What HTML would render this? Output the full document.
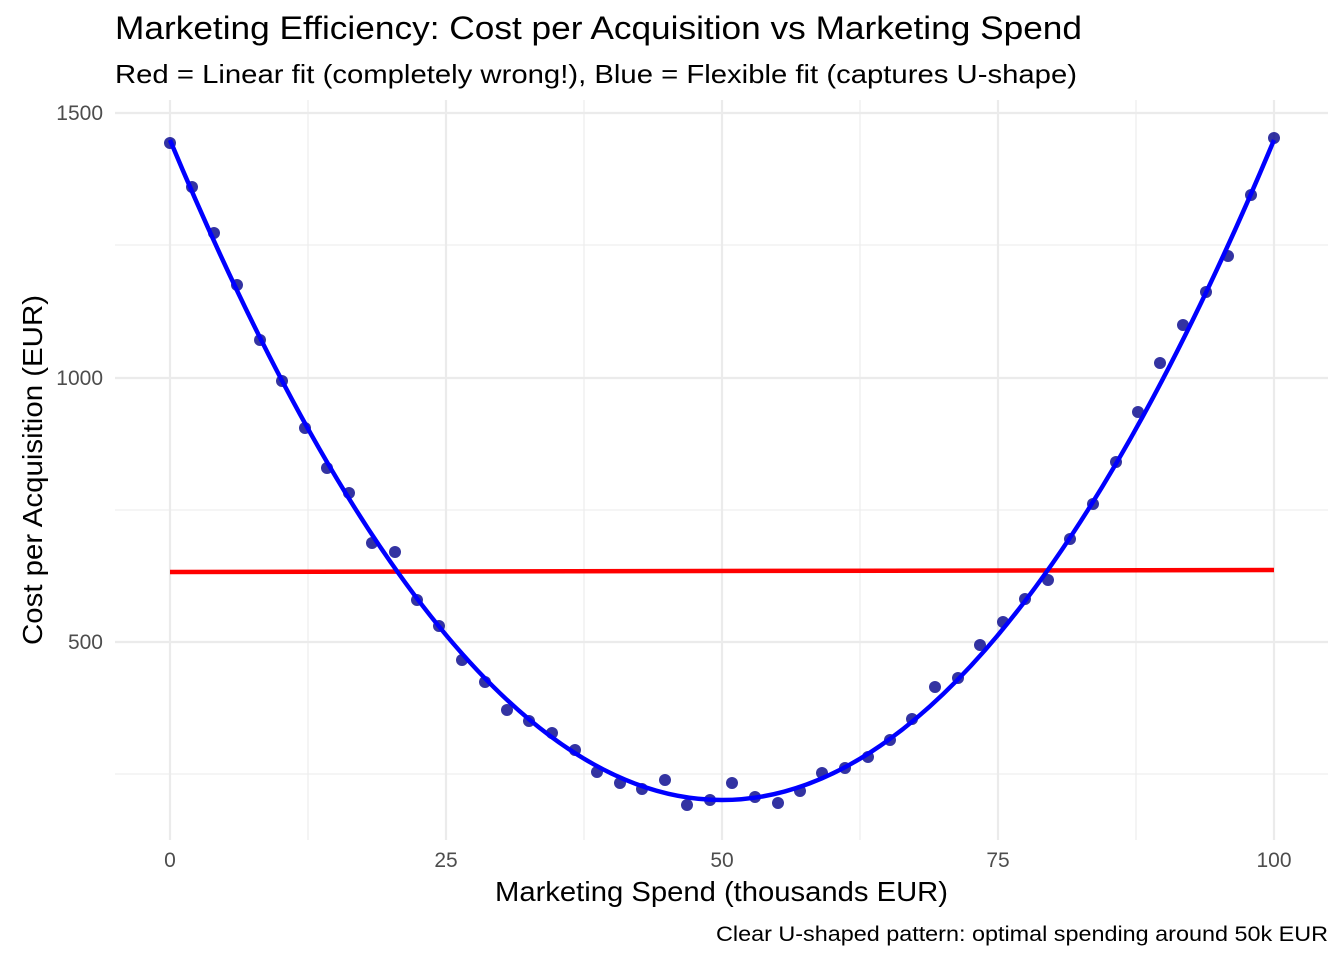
<!DOCTYPE html>
<html><head><meta charset="utf-8"><style>
html,body{margin:0;padding:0;background:#fff;}
svg{display:block;font-family:"Liberation Sans",Arial,sans-serif;}
</style></head><body>
<svg width="1344" height="960" viewBox="0 0 1344 960" xmlns="http://www.w3.org/2000/svg">
<rect width="1344" height="960" fill="#fff"/>
<g stroke="#ebebeb" stroke-width="1.1">
<line x1="115" x2="1328" y1="245" y2="245"/><line x1="115" x2="1328" y1="510" y2="510"/><line x1="115" x2="1328" y1="774" y2="774"/>
<line x1="308" x2="308" y1="100" y2="840"/><line x1="584" x2="584" y1="100" y2="840"/><line x1="860" x2="860" y1="100" y2="840"/><line x1="1136" x2="1136" y1="100" y2="840"/>
</g>
<g stroke="#ebebeb" stroke-width="2.2">
<line x1="115" x2="1328" y1="113" y2="113"/><line x1="115" x2="1328" y1="378" y2="378"/><line x1="115" x2="1328" y1="642" y2="642"/>
<line x1="170" x2="170" y1="100" y2="840"/><line x1="446" x2="446" y1="100" y2="840"/><line x1="722" x2="722" y1="100" y2="840"/><line x1="998" x2="998" y1="100" y2="840"/><line x1="1274" x2="1274" y1="100" y2="840"/>
</g>
<g fill="#00008b" fill-opacity="0.8">
<circle cx="170" cy="143" r="6"/><circle cx="192" cy="187" r="6"/><circle cx="214" cy="233" r="6"/><circle cx="237" cy="285" r="6"/><circle cx="260" cy="340" r="6"/><circle cx="282" cy="381" r="6"/><circle cx="305" cy="428" r="6"/><circle cx="327" cy="468" r="6"/><circle cx="349" cy="493" r="6"/><circle cx="372" cy="543" r="6"/><circle cx="395" cy="552" r="6"/><circle cx="417" cy="600" r="6"/><circle cx="439" cy="626" r="6"/><circle cx="462" cy="660" r="6"/><circle cx="485" cy="682" r="6"/><circle cx="507" cy="710" r="6"/><circle cx="529" cy="721" r="6"/><circle cx="552" cy="733" r="6"/><circle cx="575" cy="750" r="6"/><circle cx="597" cy="772" r="6"/><circle cx="620" cy="783" r="6"/><circle cx="642" cy="789" r="6"/><circle cx="665" cy="780" r="6"/><circle cx="687" cy="805" r="6"/><circle cx="710" cy="800" r="6"/><circle cx="732" cy="783" r="6"/><circle cx="755" cy="797" r="6"/><circle cx="778" cy="803" r="6"/><circle cx="800" cy="791" r="6"/><circle cx="822" cy="773" r="6"/><circle cx="845" cy="768" r="6"/><circle cx="868" cy="757" r="6"/><circle cx="890" cy="740" r="6"/><circle cx="912" cy="719" r="6"/><circle cx="935" cy="687" r="6"/><circle cx="958" cy="678" r="6"/><circle cx="980" cy="645" r="6"/><circle cx="1003" cy="622" r="6"/><circle cx="1025" cy="599" r="6"/><circle cx="1048" cy="580" r="6"/><circle cx="1070" cy="539" r="6"/><circle cx="1093" cy="504" r="6"/><circle cx="1116" cy="462" r="6"/><circle cx="1138" cy="412" r="6"/><circle cx="1160" cy="363" r="6"/><circle cx="1183" cy="325" r="6"/><circle cx="1206" cy="292" r="6"/><circle cx="1228" cy="256" r="6"/><circle cx="1251" cy="195" r="6"/><circle cx="1274" cy="138" r="6"/>
</g>
<line x1="170" y1="572" x2="1274" y2="570" stroke="#ff0000" stroke-width="4.5"/>
<path d="M170,140 Q722,1460 1274,140" fill="none" stroke="#0000ff" stroke-width="4.5"/>
<g font-size="21" fill="#4d4d4d" text-anchor="end">
<text x="103" y="120">1500</text><text x="103" y="385">1000</text><text x="103" y="649">500</text>
</g>
<g font-size="21" fill="#4d4d4d" text-anchor="middle">
<text x="170" y="867">0</text><text x="446" y="867">25</text><text x="722" y="867">50</text><text x="998" y="867">75</text><text x="1274" y="867">100</text>
</g>
<text x="495" y="901" font-size="28" textLength="453" lengthAdjust="spacingAndGlyphs" fill="#000">Marketing Spend (thousands EUR)</text>
<text transform="translate(42,645) rotate(-90)" font-size="28" textLength="350" lengthAdjust="spacingAndGlyphs" fill="#000">Cost per Acquisition (EUR)</text>
<text x="115" y="39" font-size="32" textLength="967" lengthAdjust="spacingAndGlyphs" fill="#000">Marketing Efficiency: Cost per Acquisition vs Marketing Spend</text>
<text x="115" y="83" font-size="26" textLength="962" lengthAdjust="spacingAndGlyphs" fill="#000">Red = Linear fit (completely wrong!), Blue = Flexible fit (captures U-shape)</text>
<text x="716" y="941" font-size="21" textLength="612" lengthAdjust="spacingAndGlyphs" fill="#000">Clear U-shaped pattern: optimal spending around 50k EUR</text>
</svg>
</body></html>
